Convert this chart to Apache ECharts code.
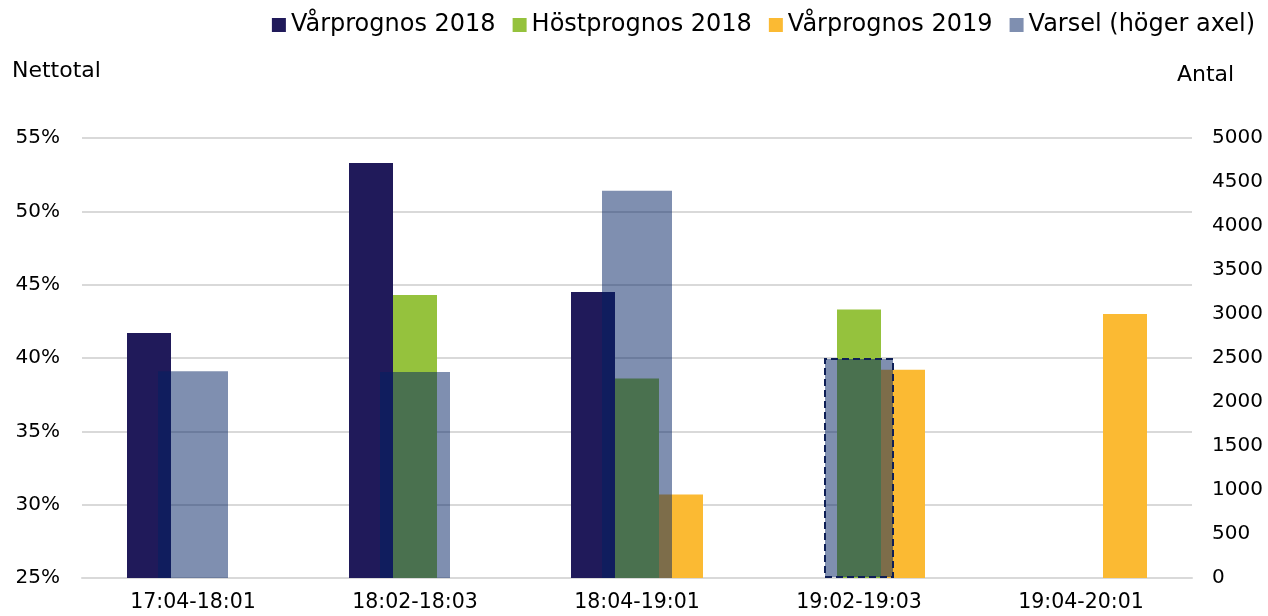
<!DOCTYPE html>
<html>
<head>
<meta charset="utf-8">
<title>Nettotal och varsel</title>
<script src="https://cdn.jsdelivr.net/npm/echarts@6/dist/echarts.min.js"></script>
<style>
    html, body { margin: 0; padding: 0; background: #fff; }
    #main { width: 1268px; height: 616px; }
</style>
</head>
<body>
<div id="main"></div>
<script>
    // data
    var categories = ['17:04-18:01', '18:02-18:03', '18:04-19:01', '19:02-19:03', '19:04-20:01'];
    var varprognos2018 = [41.7, 53.3, 44.5, 0, 0];
    var hostprognos2018 = [0, 44.3, 38.6, 43.3, 0];
    var varprognos2019 = [0, 0, 30.7, 39.2, 43.0];
    var varsel = [2350, 2340, 4400, 2500, 0];
    var leftTicks = [25, 55, 5];
    var rightTicks = [0, 5000, 500];

    var font = 'DejaVu Sans';
    var myChart = echarts.init(document.getElementById('main'));

    // the 19:02-19:03 varsel bar has a dashed outline
    var varselData = varsel.map(function (v, i) {
        if (i === 3) {
            return {
                value: v,
                itemStyle: { borderColor: '#0e1f56', borderWidth: 2, borderType: [7, 4] }
            };
        }
        return v;
    });

    var option = {
        animation: false,
        title: [
            { text: 'Nettotal', left: 12, top: 60, padding: 0,
              textStyle: { fontFamily: font, fontSize: 22, fontWeight: 'normal', color: '#000' } },
            { text: 'Antal', left: 1177, top: 64, padding: 0,
              textStyle: { fontFamily: font, fontSize: 22, fontWeight: 'normal', color: '#000' } }
        ],
        legend: {
            right: 8,
            top: 8,
            itemWidth: 14,
            itemHeight: 14,
            itemGap: 17,
            icon: 'rect',
            textStyle: { fontFamily: font, fontSize: 24, color: '#000' },
            data: ['Vårprognos 2018', 'Höstprognos 2018', 'Vårprognos 2019', 'Varsel (höger axel)']
        },
        grid: { left: 82, right: 76, top: 138, bottom: 38 },
        xAxis: [
            {
                type: 'category',
                data: categories,
                axisTick: { show: false },
                axisLine: { lineStyle: { color: '#d9d9d9', width: 2 } },
                axisLabel: { fontFamily: font, fontSize: 20.5, color: '#000', margin: 14 }
            },
            {
                type: 'category',
                data: categories,
                show: false
            }
        ],
        yAxis: [
            {
                type: 'value',
                min: leftTicks[0],
                max: leftTicks[1],
                interval: leftTicks[2],
                axisLine: { show: false },
                axisTick: { show: false },
                splitLine: { lineStyle: { color: '#d9d9d9', width: 2 } },
                axisLabel: { fontFamily: font, fontSize: 20, color: '#000', margin: 22, formatter: '{value}%' }
            },
            {
                type: 'value',
                min: rightTicks[0],
                max: rightTicks[1],
                interval: rightTicks[2],
                axisLine: { show: false },
                axisTick: { show: false },
                splitLine: { show: false },
                axisLabel: {
                    fontFamily: font, fontSize: 20, color: '#000', margin: 20,
                    formatter: function (v) { return String(v); }
                }
            }
        ],
        series: [
            {
                name: 'Vårprognos 2018',
                type: 'bar',
                barWidth: 44,
                barGap: '0%',
                itemStyle: { color: '#201a5a' },
                data: varprognos2018
            },
            {
                name: 'Höstprognos 2018',
                type: 'bar',
                barWidth: 44,
                barGap: '0%',
                itemStyle: { color: '#95c23d' },
                data: hostprognos2018
            },
            {
                name: 'Vårprognos 2019',
                type: 'bar',
                barWidth: 44,
                barGap: '0%',
                itemStyle: { color: '#fbba33' },
                data: varprognos2019
            },
            {
                name: 'Varsel (höger axel)',
                type: 'bar',
                xAxisIndex: 1,
                yAxisIndex: 1,
                barWidth: 70,
                z: 5,
                itemStyle: { color: 'rgba(0,31,97,0.5)' },
                data: varselData
            }
        ]
    };
    myChart.setOption(option);
</script>
</body>
</html>
